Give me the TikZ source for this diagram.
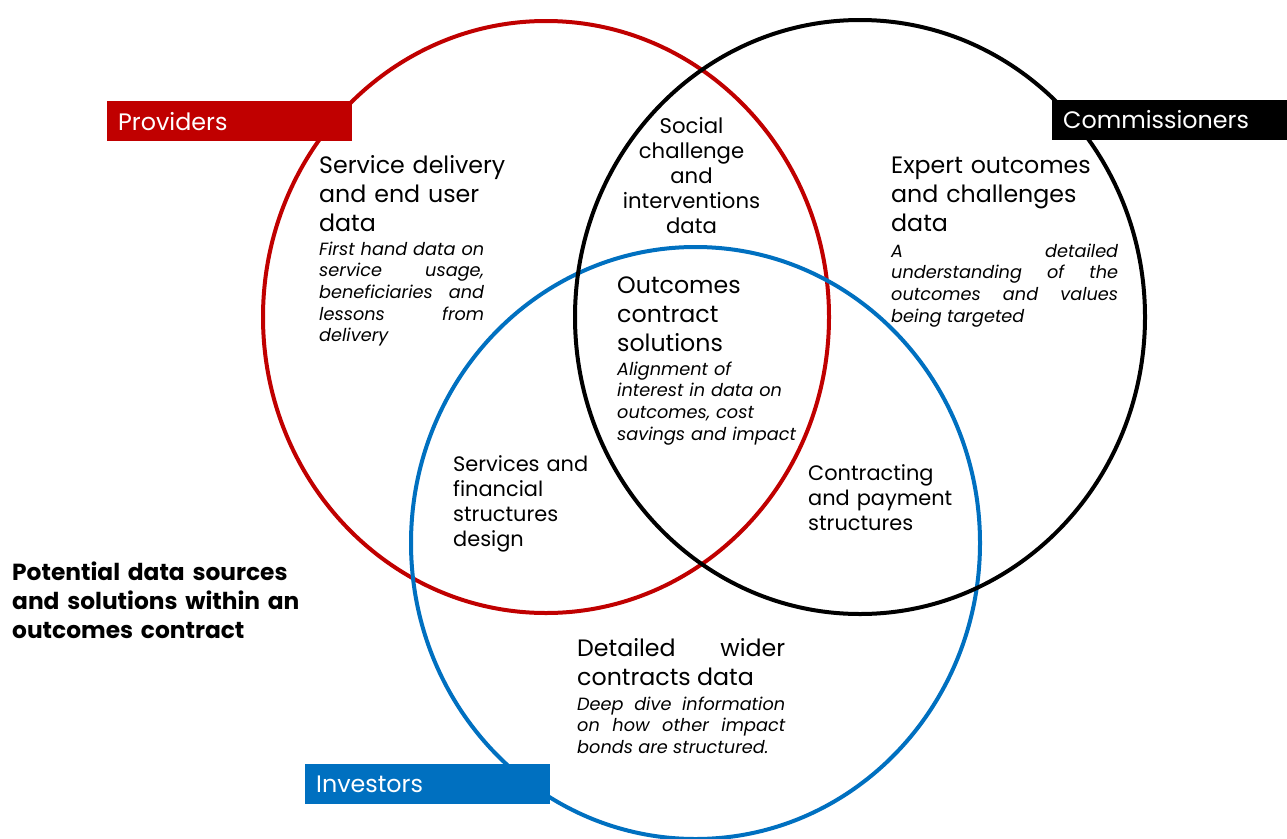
\documentclass[tikz,border=0pt]{standalone}
\usepackage{fontspec}
\setmainfont{Poppins}
\definecolor{provred}{HTML}{C00000}
\definecolor{invblue}{HTML}{0070C0}
\tikzset{
  venn/.style={line width=4pt},
  headtxt/.style={anchor=base west, inner sep=0pt, text width=#1, align=left,
    font=\fontsize{23.7}{29}\selectfont},
  bodytxt/.style={anchor=base west, inner sep=0pt, text width=#1, align=justify,
    font=\fontsize{17.7}{21.7}\selectfont\itshape},
  midtxt/.style={anchor=base west, inner sep=0pt, text width=#1, align=left,
    font=\fontsize{20.9}{25}\selectfont},
  labelbox/.style={anchor=north west, inner xsep=11pt, inner ysep=0pt,
    minimum height=40pt, text width=#1, align=left, text=white,
    font=\fontsize{23.8}{26}\selectfont},
}
\begin{document}
\begin{tikzpicture}[x=1pt,y=-1pt]
\useasboundingbox (0,0) rectangle (1287,838);
\fill[white] (0,0) rectangle (1287,838);
% circles
\draw[venn, provred] (546,317) ellipse [x radius=283, y radius=296];
\draw[venn, invblue] (695.5,543) ellipse [x radius=284.5, y radius=296];
\draw[venn, black] (860,317) ellipse [x radius=285, y radius=297];
% labels
\node[labelbox=223pt, fill=provred] (prov) at (107,101) {Providers};
\node[labelbox=213pt, fill=black] (comm) at (1052,99.5) {Commissioners};
\node[labelbox=223pt, fill=invblue] (inv) at (305,764) {Investors};
% providers
\node[headtxt=210pt] (sdh) at (319,173) {Service delivery\\and end user\\data};
\node[bodytxt=165pt] (sdt) at (319,255) {First hand data on\linebreak service usage,\linebreak beneficiaries and\linebreak lessons from\linebreak delivery};
% social
\node[anchor=base, inner sep=0pt, text width=170pt, align=center,
  font=\fontsize{21.2}{25}\selectfont] (soc) at (691.5,133)
  {Social\\challenge\\and\\interventions\\data};
% commissioners
\node[headtxt=240pt] (exh) at (891,173) {Expert outcomes\\and challenges\\data};
\node[bodytxt=227pt] (ext) at (891,257) {A detailed\linebreak understanding of the\linebreak outcomes and values\linebreak being targeted};
% centre
\node[headtxt=200pt] (outh) at (617,293) {Outcomes\\contract\\solutions};
\node[bodytxt=200pt, align=left] (outt) at (617,375) {Alignment of\\interest in data on\\outcomes, cost\\savings and impact};
% services
\node[midtxt=170pt] (svc) at (453,471) {Services and\\financial\\structures\\design};
\node[midtxt=170pt] (con) at (808,480) {Contracting\\and payment\\structures};
% investors
\node[headtxt=208pt, align=justify] (deth) at (577,656) {Detailed wider\linebreak contracts data};
\node[bodytxt=208pt] (dett) at (577,710) {Deep dive information\linebreak on how other impact\linebreak bonds are structured.};
% title
\node[anchor=base west, inner sep=0pt, text width=320pt, align=left,
  font=\fontsize{23.3}{29}\selectfont\bfseries] (title) at (12,580)
  {Potential data sources\\and solutions within an\\outcomes contract};
\end{tikzpicture}
\end{document}
